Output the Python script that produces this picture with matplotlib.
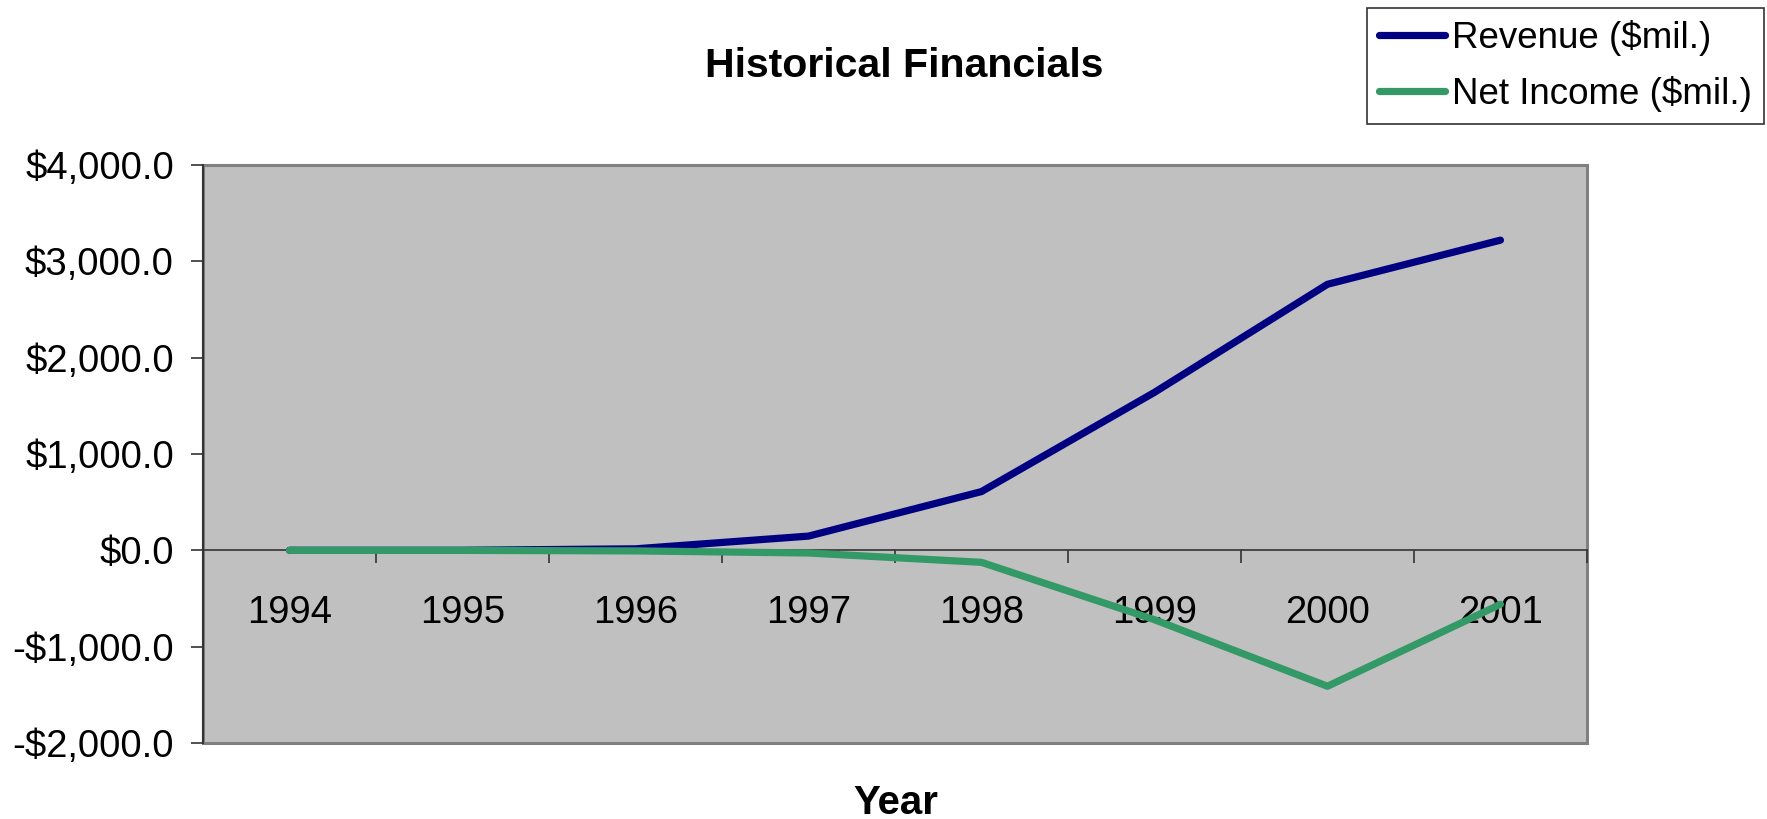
import numpy as np
import matplotlib.pyplot as plt
from matplotlib.patches import Rectangle
from matplotlib.ticker import FuncFormatter, FixedLocator

# Dados
anos = ['1994', '1995', '1996', '1997', '1998', '1999', '2000', '2001']
receita = [0.5, 0.5, 15.7, 147.8, 610.0, 1640.0, 2762.0, 3220.0]
lucro = [-0.3, -0.3, -5.8, -27.6, -124.5, -720.0, -1411.0, -560.0]

plt.rcParams['font.family'] = ['Liberation Sans', 'DejaVu Sans']

def moeda(v, pos=None):
    s = '${:,.1f}'.format(abs(v))
    return '-' + s if v < 0 else s

fig = plt.figure(figsize=(17.67, 8.19), dpi=100)
ax = fig.add_axes([0.1149, 0.0928, 0.7832, 0.7057])
ax.set_facecolor('#C0C0C0')

x = np.arange(len(anos))
l1, = ax.plot(x, receita, color='#000080', lw=5.2, solid_capstyle='round',
              solid_joinstyle='round', label='Revenue ($mil.)', zorder=3)
l2, = ax.plot(x, lucro, color='#339966', lw=5.2, solid_capstyle='round',
              solid_joinstyle='round', label='Net Income ($mil.)', zorder=4)

ax.set_xlim(-0.5, len(anos) - 0.5)
ax.set_ylim(-2000, 4000)

# eixo y
ax.set_yticks(np.arange(-2000, 4001, 1000))
ax.yaxis.set_major_formatter(FuncFormatter(moeda))
ax.tick_params(axis='y', direction='out', length=9, width=1.2, color='#333333',
               labelsize=27.5, pad=12)

# eixo x cruzando em zero, marcas entre categorias
ax.spines['bottom'].set_position(('data', 0))
ax.spines['bottom'].set_color('#333333')
ax.spines['bottom'].set_linewidth(1.2)
ax.spines['left'].set_color('#333333')
ax.spines['left'].set_linewidth(1.5)
ax.spines['top'].set_visible(False)
ax.spines['right'].set_visible(False)
ax.xaxis.set_major_locator(FixedLocator(np.arange(-0.5, len(anos), 1.0)))
ax.xaxis.set_major_formatter(FuncFormatter(lambda v, p: ''))
ax.set_xticks(x, minor=True)
ax.set_xticklabels(anos, minor=True)
ax.tick_params(axis='x', which='major', direction='out', length=9, width=1.2,
               color='#333333')
ax.tick_params(axis='x', which='minor', length=0, labelsize=27.5, pad=32)

# moldura da área de plotagem
ax.add_patch(Rectangle((0, 0), 1, 1, transform=ax.transAxes, fill=False,
                       edgecolor='#808080', lw=2.2, zorder=1, clip_on=False))

fig.text(0.5115, 0.92, 'Historical Financials', ha='center', va='center',
         fontsize=29.5, fontweight='bold')
fig.text(0.507, 0.02, 'Year', ha='center', va='center',
         fontsize=29, fontweight='bold')

leg = fig.legend(handles=[l1, l2], loc='upper left',
                 bbox_to_anchor=(1367 / 1767, 1 - 8 / 819), fontsize=26.5,
                 frameon=True, fancybox=False, edgecolor='#000000',
                 handlelength=1.8, handletextpad=0.2, borderpad=0.32,
                 labelspacing=0.55, borderaxespad=0)
leg.get_frame().set_linewidth(1.2)

fig.savefig('out.png', dpi=100)
